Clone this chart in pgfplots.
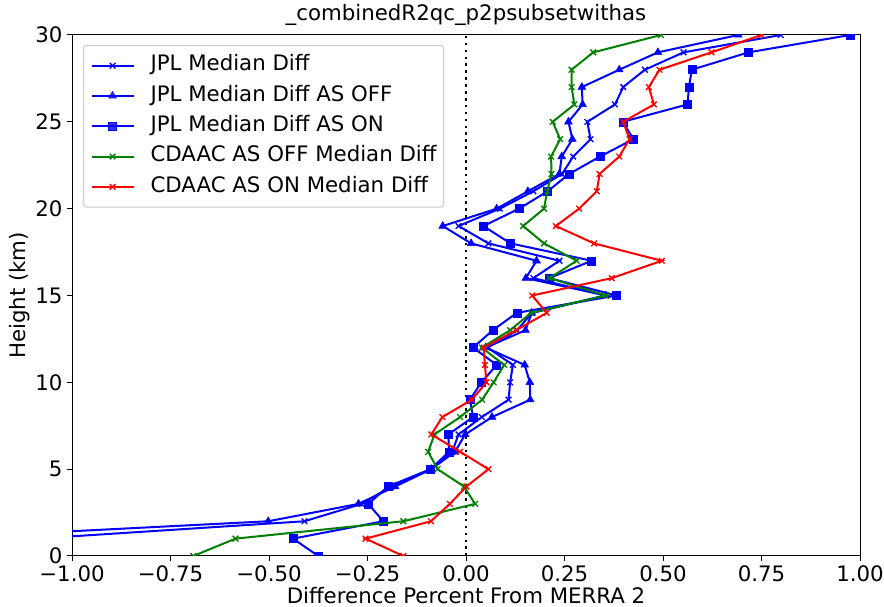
\documentclass[border=0pt]{standalone}
\usepackage{fontspec}
\setmainfont{DejaVu Sans}
\usepackage{pgfplots}
\pgfplotsset{compat=1.18}
\newcommand\fs{\fontsize{21.3}{25.6}\selectfont}

\begin{document}
\begin{tikzpicture}
\useasboundingbox (-72pt,-51pt) rectangle (812pt,556pt);
\begin{axis}[
    at={(0,0)}, anchor=south west,
    scale only axis, width=788pt, height=521pt,
    xmin=-1, xmax=1, ymin=0, ymax=30,
    xtick={-1,-0.75,-0.5,-0.25,0,0.25,0.5,0.75,1},
    xticklabels={−1.00,−0.75,−0.50,−0.25,0.00,0.25,0.50,0.75,1.00},
    ytick={0,5,10,15,20,25,30},
    yticklabels={0,5,10,15,20,25,30},
    xtick pos=bottom, ytick pos=left,
    tick align=outside, major tick length=4.7pt,
    tick style={black, line width=1pt},
    axis line style={line width=1pt},
    ticklabel style={font=\fs},
    xticklabel style={anchor=north, inner sep=0pt, yshift=-4.7pt},
    yticklabel style={anchor=east, inner sep=0pt, xshift=-4.7pt},
    xlabel={Difference Percent From MERRA 2},
    ylabel={Height (km)},
    xlabel style={font=\fs, at={(axis description cs:0.5,-0.0905)}, anchor=base, inner sep=0pt},
    ylabel style={font=\fs, at={(axis description cs:-0.0596,0.5)}, anchor=base, inner sep=0pt},
    title={\_combinedR2qc\_p2psubsetwithas},
    title style={font=\fs, at={(axis description cs:0.5,1)}, anchor=base, yshift=8pt, inner sep=0pt},
    clip marker paths=true,
    every axis plot/.append style={line width=2pt},
    legend cell align=left,
    legend image code/.code={\draw[mark repeat=2,mark phase=2,#1] plot coordinates {(0pt,0pt) (21pt,0pt) (42pt,0pt)};},
    legend style={
        at={(axis description cs:0.014,0.981)}, anchor=north west,
        font=\fs, draw=black!20, line width=1pt, rounded corners=3pt,
        fill=white, fill opacity=0.8, text opacity=1,
        inner xsep=7pt, inner ysep=10pt,
        row sep=9.8pt, column sep=16pt,
        nodes={inner sep=0pt, text height=15.5pt, text depth=5pt},
    },
]
\draw[black, line width=2.6pt, dash pattern=on 2.6pt off 4.3pt] (axis cs:0,0) -- (axis cs:0,30);

% JPL Median Diff
\addplot[blue, mark=x, mark size=4pt, mark options={line width=1.3pt}] coordinates {
(-1.50,0) (-1.09,1) (-0.410,2) (-0.265,3) (-0.190,4) (-0.090,5) (-0.035,6) (-0.019,7)
(0.040,8) (0.108,9) (0.112,10) (0.119,11) (0.055,12) (0.130,13) (0.167,14) (0.355,15)
(0.171,16) (0.237,17) (0.057,18) (-0.019,19) (0.086,20) (0.171,21) (0.244,22) (0.272,23)
(0.316,24) (0.308,25) (0.378,26) (0.399,27) (0.454,28) (0.552,29) (0.799,30)
};
\addlegendentry{JPL Median Diff}

% JPL Median Diff AS OFF
\addplot[blue, mark=triangle*, mark size=4.5pt, mark options={line width=0.5pt}] coordinates {
(-1.60,0) (-1.37,1) (-0.502,2) (-0.273,3) (-0.180,4) (-0.088,5) (-0.028,6) (-0.002,7)
(0.066,8) (0.163,9) (0.162,10) (0.149,11) (0.050,12) (0.151,13) (0.167,14) (0.355,15)
(0.152,16) (0.179,17) (0.013,18) (-0.059,19) (0.078,20) (0.157,21) (0.237,22) (0.243,23)
(0.270,24) (0.260,25) (0.296,26) (0.294,27) (0.389,28) (0.487,29) (0.691,30)
};
\addlegendentry{JPL Median Diff AS OFF}

% JPL Median Diff AS ON
\addplot[blue, mark=square*, mark size=4pt, mark options={line width=0.5pt}] coordinates {
(-0.375,0) (-0.439,1) (-0.210,2) (-0.248,3) (-0.198,4) (-0.090,5) (-0.043,6) (-0.045,7)
(0.018,8) (0.010,9) (0.039,10) (0.078,11) (0.018,12) (0.068,13) (0.129,14) (0.382,15)
(0.211,16) (0.319,17) (0.113,18) (0.044,19) (0.135,20) (0.207,21) (0.262,22) (0.340,23)
(0.425,24) (0.398,25) (0.562,26) (0.566,27) (0.573,28) (0.717,29) (0.975,30)
};
\addlegendentry{JPL Median Diff AS ON}

% CDAAC AS OFF
\addplot[green!50!black, mark=x, mark size=4pt, mark options={line width=1.3pt}] coordinates {
(-0.692,0) (-0.585,1) (-0.159,2) (0.023,3) (-0.005,4) (-0.072,5) (-0.096,6) (-0.080,7)
(-0.015,8) (0.041,9) (0.070,10) (0.097,11) (0.040,12) (0.112,13) (0.165,14) (0.355,15)
(0.212,16) (0.281,17) (0.198,18) (0.145,19) (0.198,20) (0.206,21) (0.217,22) (0.216,23)
(0.239,24) (0.220,25) (0.275,26) (0.268,27) (0.268,28) (0.323,29) (0.495,30)
};
\addlegendentry{CDAAC AS OFF Median Diff}

% CDAAC AS ON
\addplot[red, mark=x, mark size=4pt, mark options={line width=1.3pt}] coordinates {
(-0.159,0) (-0.255,1) (-0.089,2) (-0.041,3) (0.001,4) (0.057,5) (-0.015,6) (-0.088,7)
(-0.060,8) (0.015,9) (0.052,10) (0.048,11) (0.045,12) (0.127,13) (0.205,14) (0.168,15)
(0.370,16) (0.497,17) (0.325,18) (0.228,19) (0.287,20) (0.332,21) (0.339,22) (0.389,23)
(0.415,24) (0.399,25) (0.477,26) (0.464,27) (0.491,28) (0.623,29) (0.750,30)
};
\addlegendentry{CDAAC AS ON Median Diff}
\end{axis}
\end{tikzpicture}
\end{document}
